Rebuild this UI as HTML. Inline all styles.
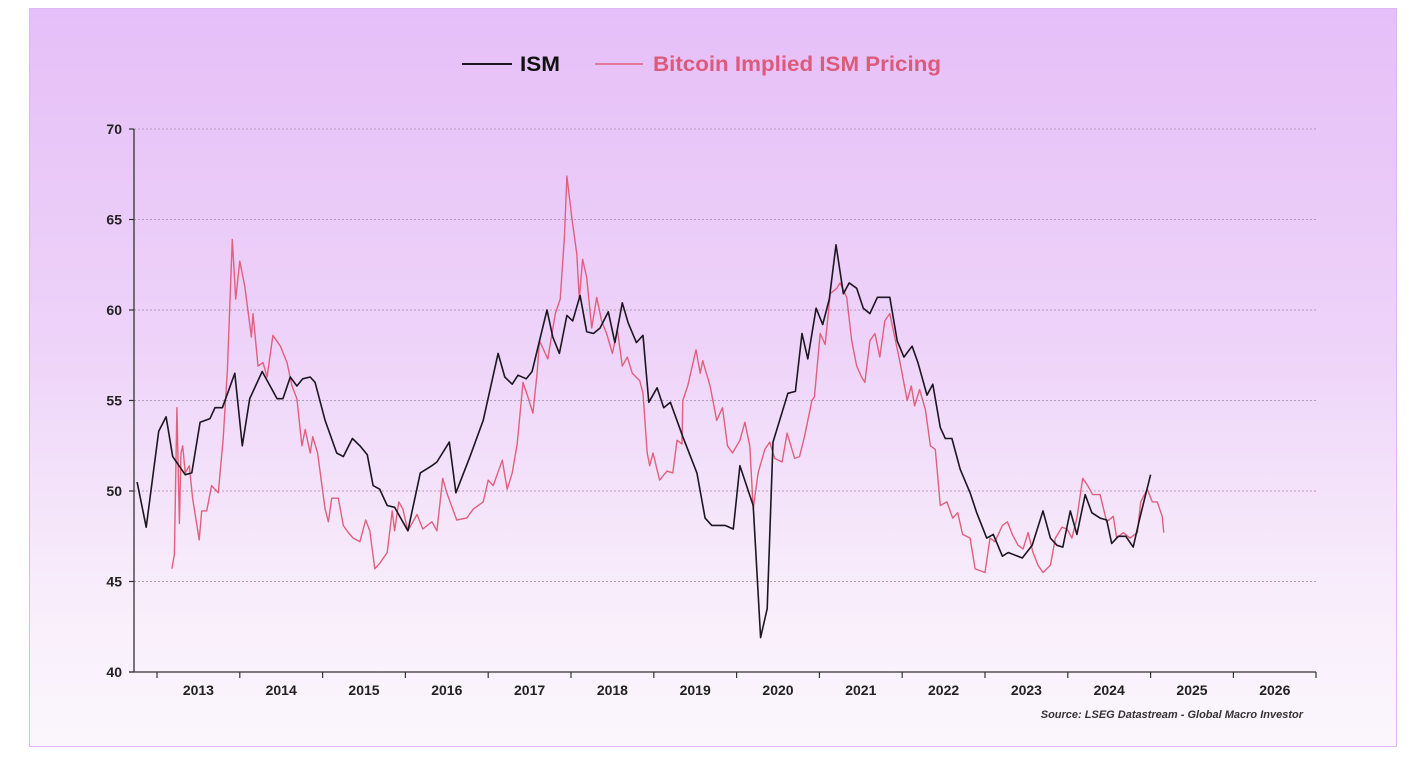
<!DOCTYPE html>
<html><head><meta charset="utf-8"><style>
html,body{margin:0;padding:0;background:#fff;}
body{width:1426px;height:774px;position:relative;overflow:hidden;font-family:"Liberation Sans",Arial,sans-serif;}
#panel{position:absolute;left:29px;top:8px;width:1368px;height:739px;background:linear-gradient(180deg,#e5bff8 0%,#eed3f9 45%,#f8eefb 80%,#fbf6fc 100%);border:1px solid #e2b8f4;box-sizing:border-box;}
svg{position:absolute;left:0;top:0;}
</style></head><body>
<div id="panel"></div>
<svg id="chart" width="1426" height="774"></svg>
<script>
const yTicks=[40,45,50,55,60,65,70];
const yearLabels=["2013","2014","2015","2016","2017","2018","2019","2020","2021","2022","2023","2024","2025","2026"];
const ismDates=[2012.76,2012.87,2013.02,2013.11,2013.19,2013.34,2013.42,2013.52,2013.64,2013.70,2013.79,2013.94,2014.03,2014.12,2014.27,2014.45,2014.52,2014.61,2014.69,2014.76,2014.85,2014.91,2015.03,2015.17,2015.25,2015.36,2015.45,2015.54,2015.61,2015.69,2015.78,2015.87,2016.03,2016.18,2016.32,2016.38,2016.53,2016.61,2016.78,2016.94,2017.12,2017.20,2017.29,2017.36,2017.46,2017.53,2017.63,2017.71,2017.78,2017.86,2017.95,2018.02,2018.11,2018.19,2018.27,2018.35,2018.45,2018.53,2018.62,2018.69,2018.79,2018.87,2018.94,2019.04,2019.12,2019.20,2019.35,2019.52,2019.62,2019.70,2019.86,2019.96,2020.04,2020.20,2020.29,2020.37,2020.44,2020.62,2020.71,2020.79,2020.86,2020.96,2021.04,2021.12,2021.20,2021.29,2021.36,2021.45,2021.53,2021.61,2021.70,2021.85,2021.94,2022.02,2022.12,2022.19,2022.30,2022.37,2022.46,2022.52,2022.60,2022.70,2022.82,2022.90,2023.02,2023.10,2023.21,2023.28,2023.45,2023.57,2023.70,2023.79,2023.87,2023.94,2024.03,2024.11,2024.21,2024.29,2024.39,2024.47,2024.53,2024.61,2024.70,2024.79,2024.87,2025.00];
const ismValues=[50.5,48.0,53.3,54.1,51.9,50.9,51.0,53.8,54.0,54.6,54.6,56.5,52.5,55.1,56.6,55.1,55.1,56.3,55.8,56.2,56.3,56.0,53.9,52.1,51.9,52.9,52.5,52.0,50.3,50.1,49.2,49.1,47.8,51.0,51.4,51.6,52.7,49.9,51.9,53.9,57.6,56.3,55.9,56.4,56.2,56.6,58.5,60.0,58.5,57.6,59.7,59.4,60.8,58.8,58.7,59.0,59.9,58.2,60.4,59.3,58.2,58.6,54.9,55.7,54.6,54.9,53.0,51.0,48.5,48.1,48.1,47.9,51.4,49.2,41.9,43.5,52.7,55.4,55.5,58.7,57.3,60.1,59.2,60.6,63.6,60.9,61.5,61.2,60.1,59.8,60.7,60.7,58.3,57.4,58.0,57.1,55.3,55.9,53.5,52.9,52.9,51.2,49.9,48.8,47.4,47.6,46.4,46.6,46.3,47.0,48.9,47.4,47.0,46.9,48.9,47.6,49.8,48.8,48.5,48.4,47.1,47.5,47.5,46.9,48.5,50.9];
const btcDates=[2013.18,2013.21,2013.24,2013.27,2013.29,2013.31,2013.34,2013.39,2013.43,2013.51,2013.54,2013.60,2013.66,2013.74,2013.80,2013.85,2013.91,2013.95,
2014.00,2014.06,2014.14,2014.16,2014.22,2014.28,2014.33,2014.40,2014.49,2014.57,2014.63,2014.69,2014.75,2014.79,2014.85,2014.88,2014.94,
2015.03,2015.07,2015.11,2015.19,2015.25,2015.31,2015.37,2015.45,2015.52,2015.57,2015.63,2015.69,2015.78,2015.84,2015.87,2015.92,2015.97,
2016.03,2016.14,2016.21,2016.32,2016.38,2016.45,2016.50,2016.62,2016.74,2016.82,2016.94,
2017.00,2017.06,2017.17,2017.23,2017.29,2017.35,2017.42,2017.48,2017.54,2017.59,2017.62,2017.72,2017.81,2017.87,2017.92,2017.95,
2018.01,2018.07,2018.10,2018.14,2018.19,2018.25,2018.31,2018.37,2018.43,2018.50,2018.56,2018.62,2018.68,2018.74,2018.83,2018.87,2018.92,2018.95,
2018.99,2019.07,2019.16,2019.23,2019.28,2019.34,2019.35,2019.41,2019.51,2019.56,2019.59,2019.68,2019.76,2019.83,2019.89,2019.95,
2020.04,2020.10,2020.16,2020.20,2020.26,2020.34,2020.40,2020.46,2020.55,2020.61,2020.70,2020.76,2020.82,2020.91,2020.94,
2021.01,2021.07,2021.13,2021.21,2021.25,2021.33,2021.39,2021.45,2021.51,2021.55,2021.61,2021.67,2021.73,2021.79,2021.85,2021.91,2021.97,
2022.06,2022.11,2022.15,2022.21,2022.28,2022.34,2022.40,2022.46,2022.54,2022.61,2022.67,2022.73,2022.82,2022.88,2022.94,
2023.00,2023.06,2023.12,2023.21,2023.27,2023.33,2023.40,2023.46,2023.52,2023.58,2023.64,2023.70,2023.79,2023.85,2023.93,2023.99,
2024.05,2024.11,2024.18,2024.24,2024.30,2024.39,2024.47,2024.55,2024.59,2024.67,2024.75,2024.84,2024.88,2024.96,
2025.02,2025.08,2025.14,2025.16];
const btcValues=[45.7,46.5,54.6,48.2,52.1,52.5,51.0,51.4,49.6,47.3,48.9,48.9,50.3,49.9,52.9,56.7,63.9,60.6,
62.7,61.3,58.5,59.8,56.9,57.1,56.3,58.6,58.0,57.1,55.8,55.1,52.5,53.4,52.1,53.0,52.1,
49.0,48.3,49.6,49.6,48.1,47.7,47.4,47.2,48.4,47.8,45.7,46.0,46.6,48.9,47.8,49.4,49.0,
47.8,48.7,47.9,48.3,47.8,50.7,49.9,48.4,48.5,49.0,49.4,
50.6,50.3,51.7,50.1,51.0,52.6,56.0,55.2,54.3,56.5,58.3,57.3,59.8,60.6,64.0,67.4,
65.1,63.1,60.6,62.8,61.8,59.0,60.7,59.4,58.7,57.6,58.9,56.9,57.4,56.5,56.1,55.4,52.1,51.4,
52.1,50.6,51.1,51.0,52.8,52.6,55.0,55.8,57.8,56.5,57.2,55.8,53.9,54.6,52.5,52.1,
52.8,53.8,52.5,49.0,51.0,52.3,52.7,51.8,51.6,53.2,51.8,51.9,53.0,55.0,55.2,
58.7,58.1,60.9,61.2,61.5,60.7,58.3,56.9,56.3,56.0,58.3,58.7,57.4,59.4,59.8,58.5,57.2,
55.0,55.8,54.7,55.6,54.5,52.5,52.3,49.2,49.4,48.5,48.8,47.6,47.4,45.7,45.6,
45.5,47.4,47.2,48.1,48.3,47.6,47.0,46.8,47.7,46.6,45.9,45.5,45.9,47.4,48.0,47.9,
47.4,48.5,50.7,50.3,49.8,49.8,48.3,48.6,47.4,47.7,47.4,47.7,49.4,50.1,
49.4,49.4,48.6,47.7];

const NS='http://www.w3.org/2000/svg';
const svg=document.getElementById('chart');
const X0=134,X1=1316,Y0=672,Y1=129;
const yearStart=2013, yearPx=82.8, yearX0=157;
function xScale(t){return yearX0+(t-yearStart)*yearPx;}
function yScale(v){return Y0-(v-40)/(70-40)*(Y0-Y1);}
function mk(tag,attrs){const e=document.createElementNS(NS,tag);for(const k in attrs)e.setAttribute(k,attrs[k]);svg.appendChild(e);return e;}

yTicks.forEach(v=>{
  const y=yScale(v);
  if(v>40){const g=mk('line',{x1:X0,x2:X1,y1:y,y2:y,stroke:'#b49ab8','stroke-width':1,'stroke-dasharray':'2,2'});
  
  }
  const t=mk('line',{x1:X0-5,x2:X0,y1:y,y2:y,stroke:'#333','stroke-width':1.2});
  
  
  const l=mk('text',{x:X0-12,y:y+5,'text-anchor':'end','font-size':14,'font-weight':'bold',fill:'#222'});
  l.textContent=v;
  
  
});
const ya=mk('line',{x1:X0,x2:X0,y1:Y1,y2:Y0,stroke:'#333','stroke-width':1.3});


const xa=mk('line',{x1:X0-5,x2:X1,y1:Y0,y2:Y0,stroke:'#333','stroke-width':1.3});


yearLabels.forEach((lab,i)=>{
  const yr=parseInt(lab);
  const tx=xScale(yr);
  const tk=mk('line',{x1:tx,x2:tx,y1:Y0,y2:Y0+6,stroke:'#333','stroke-width':1.2});
  
  
  const t=mk('text',{x:xScale(yr+0.5),y:Y0+23,'text-anchor':'middle','font-size':14,'font-weight':'bold',fill:'#222'});
  t.textContent=lab;
  
  
});
const endTk=mk('line',{x1:X1,x2:X1,y1:Y0,y2:Y0+6,stroke:'#333','stroke-width':1.2});



function path(dates,vals){return dates.map((d,i)=>(i?'L':'M')+xScale(d).toFixed(1)+','+yScale(vals[i]).toFixed(1)).join(' ');}
const btc=mk('path',{d:path(btcDates,btcValues),fill:'none',stroke:'#e0607e','stroke-width':1.4,'stroke-linejoin':'round'});


const ism=mk('path',{d:path(ismDates,ismValues),fill:'none',stroke:'#1c1620','stroke-width':1.6,'stroke-linejoin':'round'});


</script>
<svg width="1426" height="774" style="position:absolute;left:0;top:0">
  <g>
    <line x1="462" x2="512" y1="64" y2="64" stroke="#1c1620" stroke-width="2"/>
    <text x="520" y="71" font-size="21" font-weight="bold" fill="#111" font-family="Liberation Sans, sans-serif" textLength="40" lengthAdjust="spacingAndGlyphs">ISM</text>
  </g>
  <g>
    <line x1="595" x2="643" y1="64" y2="64" stroke="#e0607e" stroke-width="1.6"/>
    <text x="653" y="71" font-size="21" font-weight="bold" fill="#dc5a7c" font-family="Liberation Sans, sans-serif" textLength="288" lengthAdjust="spacingAndGlyphs">Bitcoin Implied ISM Pricing</text>
  </g>
  <text x="1303" y="718" text-anchor="end" font-size="11" font-weight="bold" font-style="italic" fill="#333" font-family="Liberation Sans, sans-serif">Source: LSEG Datastream - Global Macro Investor</text>
</svg>
</body></html>
